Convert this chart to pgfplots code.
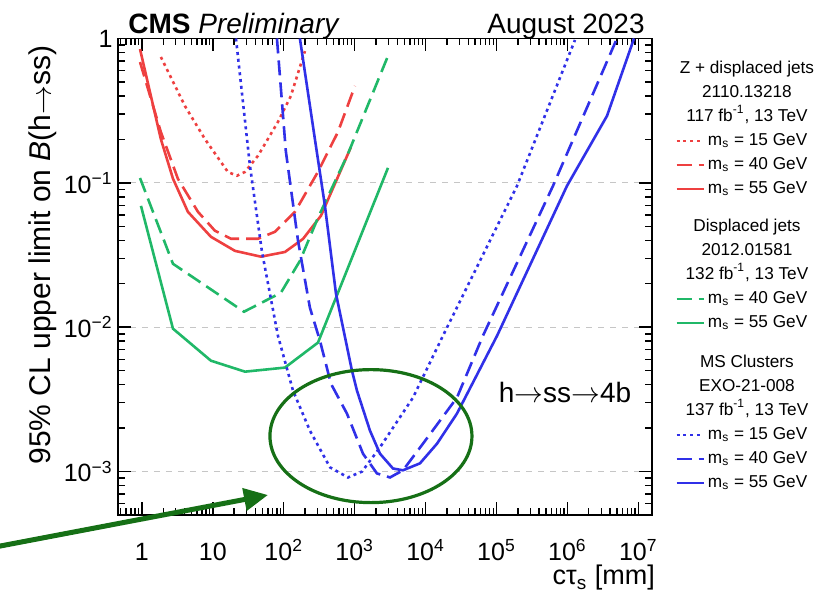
\documentclass[border=0pt]{standalone}
\usepackage{fontspec}
\setmainfont{Liberation Sans}
\usepackage{pgfplots}
\usepackage{pgfplotstable}
\pgfplotsset{compat=1.18}
\usetikzlibrary{arrows.meta}

\definecolor{zred}{RGB}{238,64,64}
\definecolor{djgreen}{RGB}{32,184,104}
\definecolor{msblue}{RGB}{48,48,232}
\definecolor{circgreen}{RGB}{22,112,22}

\tikzset{
  dotl/.style={line width=1.3pt, dash pattern=on 1.5pt off 1.9pt},
  dashl/.style={line width=1.3pt, dash pattern=on 7.5pt off 3.5pt},
  solidl/.style={line width=1.3pt},
}
\newcommand{\rarr}{\ensuremath{\rightarrow}}

% Z + displaced jets
\pgfplotstableread{
x y
1.85 0.745
4.04 0.341
7.74 0.201
16.3 0.119
21.9 0.112
28.4 0.119
43.3 0.154
82.8 0.264
126 0.40
199 0.818
}\zfifteen
\pgfplotstableread{
x y
0.94 0.687
1.85 0.225
3.22 0.1066
6.17 0.063
10.7 0.0466
18 0.041
43.3 0.041
75 0.0458
144 0.063
303 0.119
581 0.225
1010 0.469
}\zforty
\pgfplotstableread{
x y
0.94 0.845
1.85 0.201
2.74 0.107
4.45 0.063
9.4 0.0423
20.5 0.0338
47.7 0.0308
104 0.0332
187 0.0409
335 0.0592
887 0.177
}\zfiftyfive
% displaced jets
\pgfplotstableread{
x y
0.94 0.108
2.74 0.0275
27.5 0.0128
91 0.0173
169 0.0288
304 0.0573
805 0.159
2950 0.757
}\djforty
\pgfplotstableread{
x y
0.97 0.0693
2.74 0.00977
9.4 0.00586
28.4 0.00492
104 0.00525
304 0.00782
2950 0.127
}\djfiftyfive
% MS clusters
\pgfplotstableread{
x y
21.2 1
33.4 0.131
49.3 0.0333
82.8 0.00873
135 0.00364
234 0.00192
449 0.00107
805 0.00091
1270 0.001
2275 0.00147
6640 0.00325
17600 0.00873
1.95e5 0.0953
1.28e6 0.977
}\msfifteen
\pgfplotstableread{
x y
80.2 1
107 0.166
159 0.0397
234 0.01364
324 0.00807
463 0.00406
779 0.00252
1310 0.00133
2065 0.00097
3150 0.00091
4800 0.00102
9190 0.00156
27700 0.00325
64500 0.00873
6.27e5 0.0953
5.0e6 1
}\msforty
\pgfplotstableread{
x y
169 1
275 0.201
381 0.0693
545 0.0171
916 0.0050
1077 0.00364
1645 0.00192
2275 0.00133
3470 0.00105
4800 0.00102
8340 0.00114
14500 0.00156
27700 0.00252
1.02e5 0.00873
9.87e5 0.0953
3.62e6 0.291
8.7e6 1
}\msfiftyfive

\begin{document}
\begin{tikzpicture}
\path[use as bounding box] (-59pt,-39pt) rectangle (353.5pt,257.5pt);
\begin{axis}[
  at={(0pt,0pt)}, anchor=south west,
  scale only axis, width=267pt, height=238.25pt,
  xmode=log, ymode=log,
  xmin=0.46, xmax=1.56e7, ymin=5e-4, ymax=1,
  xtick={1,10,100,1000,1e4,1e5,1e6,1e7},
  minor xtick={0.5,0.6,0.7,0.8,0.9,2,3,4,5,6,7,8,9,20,30,40,50,60,70,80,90,200,300,400,500,600,700,800,900,2000,3000,4000,5000,6000,7000,8000,9000,2e4,3e4,4e4,5e4,6e4,7e4,8e4,9e4,2e5,3e5,4e5,5e5,6e5,7e5,8e5,9e5,2e6,3e6,4e6,5e6,6e6,7e6,8e6,9e6},
  xticklabels={1,10,10\textsuperscript{2},10\textsuperscript{3},10\textsuperscript{4},10\textsuperscript{5},10\textsuperscript{6},10\textsuperscript{7}},
  ytick={1e-3,1e-2,1e-1,1},
  minor ytick={6e-4,7e-4,8e-4,9e-4,2e-3,3e-3,4e-3,5e-3,6e-3,7e-3,8e-3,9e-3,2e-2,3e-2,4e-2,5e-2,6e-2,7e-2,8e-2,9e-2,0.2,0.3,0.4,0.5,0.6,0.7,0.8,0.9},
  yticklabels={10\textsuperscript{−3},10\textsuperscript{−2},10\textsuperscript{−1},1},
  tick align=inside, xtick pos=both, ytick pos=both,
  major tick length=6.5pt, minor tick length=3.5pt,
  tick style={black, line width=0.7pt},
  axis line style={line width=0.9pt},
  ymajorgrids, major grid style={gray!45, dashed, line width=0.5pt},
  ticklabel style={font=\fontsize{12.5}{15}\selectfont},
  xticklabel style={anchor=base, yshift=-22.5pt},
  yticklabel style={anchor=east, inner sep=0pt, xshift=-2.5pt},
  xlabel={cτ\textsubscript{s} [mm]},
  xlabel style={at={(axis description cs:1.006,-0.1468)}, anchor=base east, inner sep=0pt, font=\fontsize{13.5}{16}\selectfont},
  ylabel={95\% CL upper limit on \textit{B}(h\rarr ss)},
  ylabel style={at={(axis description cs:-0.1404,1)}, anchor=east, font=\fontsize{15}{18}\selectfont},
  clip mode=individual,
  legend style={draw=none, fill=none, at={(1.043,0.957)}, anchor=north west, inner sep=0pt,
    font=\fontsize{8.6}{10}\selectfont, row sep=2.5pt, column sep=1pt,
    nodes={inner sep=0.5pt, text height=6.5pt, text depth=2pt}},
  legend cell align=left,
  legend image code/.code={\draw[#1] (0pt,0pt) -- (13.5pt,0pt);},
]
\addplot[zred, dotl, forget plot] table {\zfifteen};
\addplot[zred, dashl, forget plot] table {\zforty};
\addplot[zred, solidl, forget plot] table {\zfiftyfive};
\addplot[djgreen, dashl, forget plot] table {\djforty};
\addplot[djgreen, solidl, forget plot] table {\djfiftyfive};
\addplot[msblue, dotl, forget plot] table {\msfifteen};
\addplot[msblue, dashl, forget plot] table {\msforty};
\addplot[msblue, solidl, forget plot] table {\msfiftyfive};

\draw[circgreen, line width=1.6pt] (axis cs:1698,0.00176) ellipse [x radius=50.5pt, y radius=33.25pt];
\node[font=\fontsize{14}{16}\selectfont] at (axis cs:9.25e5,0.00352) {h\rarr ss\rarr 4b};
\node[anchor=base west, font=\fontsize{14}{16}\selectfont, yshift=2.25pt, inner sep=0pt] at (rel axis cs:0.0187,1) {\textbf{CMS} \textit{Preliminary}};
\node[anchor=base east, font=\fontsize{14}{16}\selectfont, yshift=2.25pt, inner sep=0pt] at (rel axis cs:0.987,1) {August 2023};

\addlegendimage{empty legend}\addlegendentry{\makebox[39pt][c]{Z + displaced jets}}
\addlegendimage{empty legend}\addlegendentry{\makebox[39pt][c]{2110.13218}}
\addlegendimage{empty legend}\addlegendentry{\makebox[39pt][c]{117 fb\textsuperscript{-1}, 13 TeV}}
\addlegendimage{zred, dotl}\addlegendentry{m\textsubscript{s} = 15 GeV}
\addlegendimage{zred, dashl}\addlegendentry{m\textsubscript{s} = 40 GeV}
\addlegendimage{zred, solidl}\addlegendentry{m\textsubscript{s} = 55 GeV}
\addlegendimage{empty legend}\addlegendentry[text height=13.5pt]{\makebox[39pt][c]{Displaced jets}}
\addlegendimage{empty legend}\addlegendentry{\makebox[39pt][c]{2012.01581}}
\addlegendimage{empty legend}\addlegendentry{\makebox[39pt][c]{132 fb\textsuperscript{-1}, 13 TeV}}
\addlegendimage{djgreen, dashl}\addlegendentry{m\textsubscript{s} = 40 GeV}
\addlegendimage{djgreen, solidl}\addlegendentry{m\textsubscript{s} = 55 GeV}
\addlegendimage{empty legend}\addlegendentry[text height=14.5pt]{\makebox[39pt][c]{MS Clusters}}
\addlegendimage{empty legend}\addlegendentry{\makebox[39pt][c]{EXO-21-008}}
\addlegendimage{empty legend}\addlegendentry{\makebox[39pt][c]{137 fb\textsuperscript{-1}, 13 TeV}}
\addlegendimage{msblue, dotl}\addlegendentry{m\textsubscript{s} = 15 GeV}
\addlegendimage{msblue, dashl}\addlegendentry{m\textsubscript{s} = 40 GeV}
\addlegendimage{msblue, solidl}\addlegendentry{m\textsubscript{s} = 55 GeV}
\end{axis}
\draw[circgreen, line width=2.5pt, -{Triangle[length=12pt, width=11pt]}] (-74pt,-18.4pt) -- (75pt,10pt);
\end{tikzpicture}
\end{document}
